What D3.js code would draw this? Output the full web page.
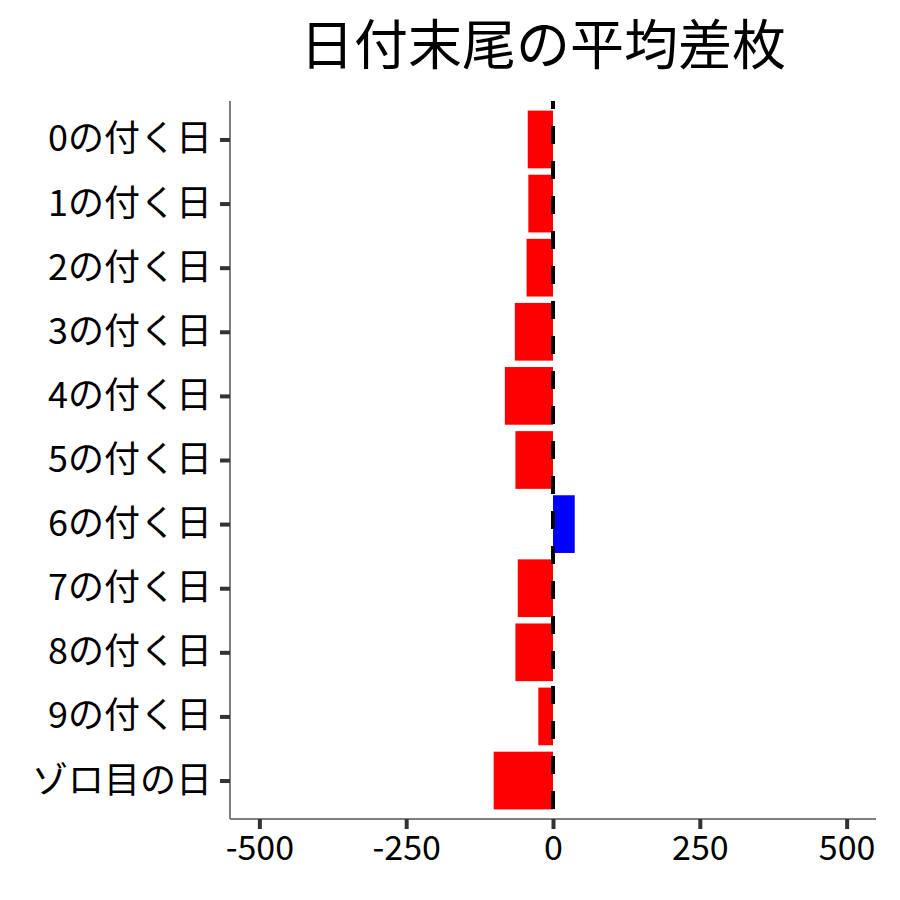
<!DOCTYPE html>
<meta charset="utf-8">
<script src="https://cdn.jsdelivr.net/npm/d3@7"></script>
<style>
body { margin: 0; background: #fff; }
text { font-family: "Noto Sans CJK JP", sans-serif; }
</style>
<body>
<script>
// data
var categories = ["0の付く日","1の付く日","2の付く日","3の付く日","4の付く日","5の付く日",
                  "6の付く日","7の付く日","8の付く日","9の付く日","ゾロ目の日"];
var diffValues = [-43, -42, -45, -65, -82, -64, 37, -60, -64, -25, -101];
var xTicks = [-500, -250, 0, 250, 500];
var title = "日付末尾の平均差枚";

var width = 900, height = 900;
var panel = {left: 230, right: 876, top: 101, bottom: 819};

var svg = d3.select("body").append("svg")
    .attr("width", width)
    .attr("height", height);

var x = d3.scaleLinear()
    .domain([-550, 550])
    .range([panel.left, panel.right]);

var y = d3.scalePoint()
    .domain(categories)
    .range([panel.top, panel.bottom])
    .padding(0.6);

var barH = y.step() * 0.9;

// bars
svg.append("g")
    .selectAll("rect")
    .data(categories)
    .enter().append("rect")
    .attr("x", function(d, i) { return x(Math.min(0, diffValues[i])); })
    .attr("width", function(d, i) { return Math.abs(x(diffValues[i]) - x(0)); })
    .attr("y", function(d) { return y(d) - barH / 2; })
    .attr("height", barH)
    .attr("fill", function(d, i) { return diffValues[i] < 0 ? "#ff0000" : "#0000ff"; });

// zero line
svg.append("line")
    .attr("x1", x(0)).attr("x2", x(0))
    .attr("y1", panel.top).attr("y2", panel.bottom)
    .attr("stroke", "#000")
    .attr("stroke-width", 4)
    .attr("stroke-dasharray", "18,17")
    .attr("stroke-dashoffset", 10);

// x axis
var xAxis = svg.append("g")
    .attr("transform", "translate(0," + panel.bottom + ")")
    .call(d3.axisBottom(x).tickValues(xTicks)
        .tickFormat(function(d) { return String(d); })
        .tickSize(10).tickPadding(7).tickSizeOuter(0));
xAxis.select(".domain").attr("stroke", "#7f7f7f").attr("stroke-width", 2)
    .attr("d", "M" + panel.left + ",0H" + panel.right);
xAxis.selectAll(".tick line").attr("stroke", "#333").attr("stroke-width", 4);
xAxis.selectAll(".tick text")
    .attr("fill", "#000")
    .attr("font-size", "34px")
    .attr("font-family", "Noto Sans CJK JP");

// y axis
var yAxis = svg.append("g")
    .attr("transform", "translate(" + panel.left + ",0)")
    .call(d3.axisLeft(y).tickSize(10).tickPadding(8).tickSizeOuter(0));
yAxis.select(".domain").attr("stroke", "#7f7f7f").attr("stroke-width", 2)
    .attr("d", "M0," + panel.top + "V" + panel.bottom);
yAxis.selectAll(".tick line").attr("stroke", "#333").attr("stroke-width", 4);
yAxis.selectAll(".tick text")
    .attr("fill", "#000")
    .attr("font-size", "36px")
    .attr("font-family", "Noto Sans CJK JP");

// title
svg.append("text")
    .attr("x", 543)
    .attr("y", 65)
    .attr("text-anchor", "middle")
    .attr("font-size", "54px")
    .attr("fill", "#000")
    .text(title);
</script>
</body>
